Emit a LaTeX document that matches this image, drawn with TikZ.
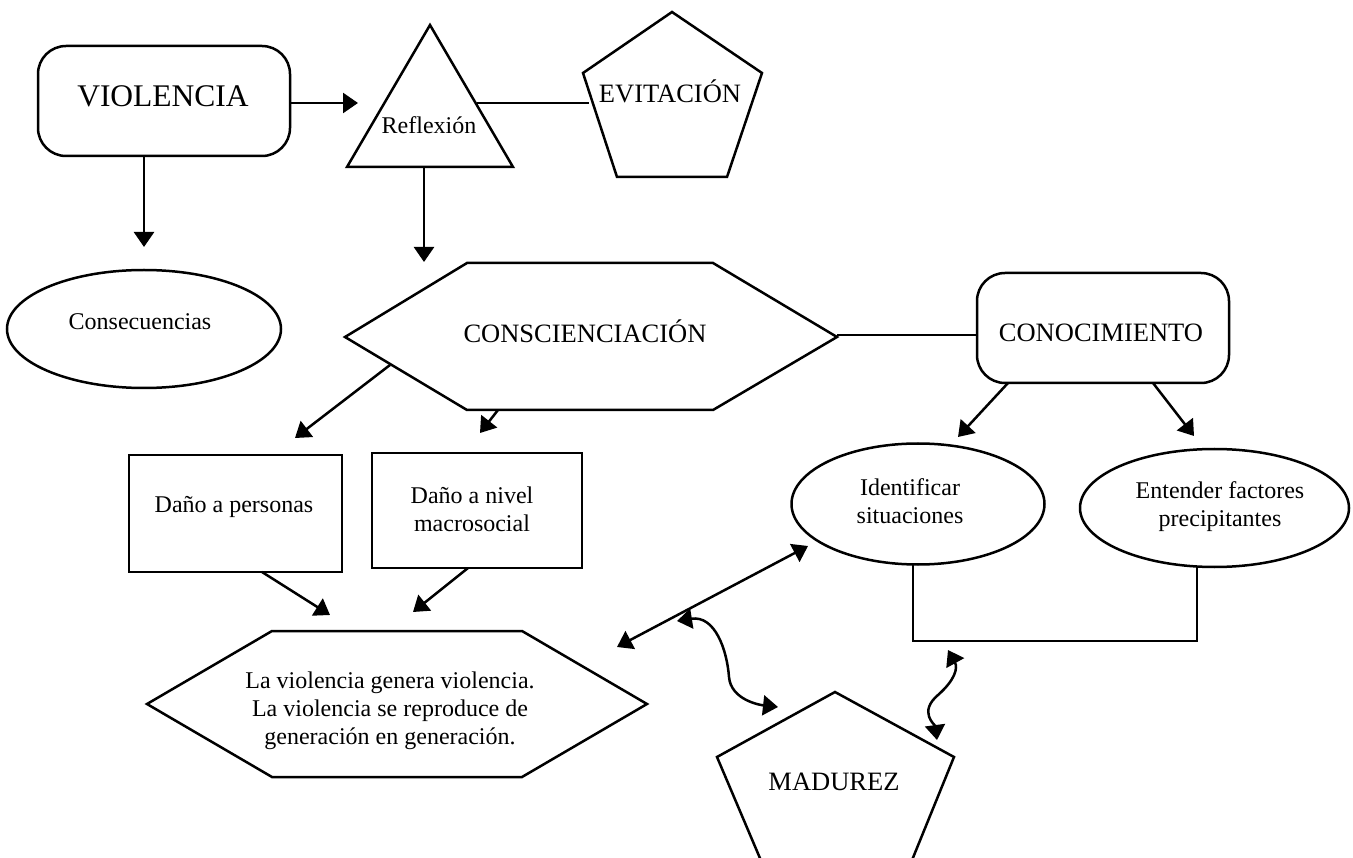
\documentclass[tikz,border=0pt]{standalone}
\usepackage{fontspec}
\setmainfont{Liberation Serif}
\usetikzlibrary{shapes.geometric,arrows.meta}
\newcommand\bigtxt{\fontsize{26.5}{31}\selectfont}
\newcommand\hugetxt{\fontsize{31.5}{36}\selectfont}
\newcommand\smalltxt{\fontsize{24}{28}\selectfont}
\begin{document}
\begin{tikzpicture}[x=1pt,y=-1pt,
  shp/.style={draw, line width=2.5pt, inner sep=0pt},
  rbox/.style={shp, rounded corners=28pt},
  ebox/.style={shp, ellipse},
  arr/.style={line width=2.5pt, -{Triangle[length=15pt,width=20pt]}},
  darr/.style={line width=2.5pt, {Triangle[length=15pt,width=20pt]}-{Triangle[length=15pt,width=20pt]}},
  conn/.style={line width=2.5pt},
  lbl/.style={font=\smalltxt, inner sep=0pt, align=center},
  captxt/.style={font=\bigtxt, inner sep=0pt}]
\fill[white] (0,0) rectangle (1353,858);
\useasboundingbox (0,0) rectangle (1353,858);

% ---- shapes ----
\node[rbox, minimum width=252pt, minimum height=110pt] (viol) at (164,101) {};
\node[ebox, minimum width=274pt, minimum height=118pt] (cons) at (144,329) {};
\draw[shp, line join=miter] (347,167) coordinate (triBL) -- (430,25) coordinate (triT) -- (513,167) coordinate (triBR) -- cycle;
\draw[shp, line join=miter] (672,12) coordinate (evT) -- (762,73) coordinate (evR) -- (727,177) coordinate (evBR) -- (617,177) coordinate (evBL) -- (583,73) coordinate (evL) -- cycle;
\draw[shp, line join=miter] (345,337) coordinate (hxL) -- (467,263) coordinate (hxTL) -- (713,263) coordinate (hxTR) -- (837,337) coordinate (hxR) -- (713,410) coordinate (hxBR) -- (467,410) coordinate (hxBL) -- cycle;
\node[rbox, minimum width=252pt, minimum height=110pt] (cono) at (1103,328) {};
\node[shp, minimum width=213pt, minimum height=117pt] (dp) at (235.5,513.5) {};
\node[shp, minimum width=210pt, minimum height=115pt] (dm) at (477,510.5) {};
\draw[shp, line join=miter] (147,704) coordinate (vgL) -- (272,631) coordinate (vgTL) -- (522,631) coordinate (vgTR) -- (647,704) coordinate (vgR) -- (522,777) coordinate (vgBR) -- (272,777) coordinate (vgBL) -- cycle;
\node[ebox, minimum width=253pt, minimum height=121pt] (ident) at (918,504) {};
\node[ebox, minimum width=269pt, minimum height=118pt] (ent) at (1214.5,508) {};
\begin{scope}
\clip (0,0) rectangle (1353,858);
\draw[shp, line join=miter] (835,692) coordinate (mdT) -- (954,757) coordinate (mdR) -- (908,870) -- (765,870) -- (717,757) coordinate (mdL) -- cycle;
\end{scope}

% ---- texts ----
\node[font=\hugetxt, inner sep=0pt, anchor=base] (tviol) at (163,107) {VIOLENCIA};
\node[lbl, anchor=base] (tcons) at (140,330) {Consecuencias};
\node[lbl, anchor=base] (trefl) at (429,134) {Reflexión};
\node[captxt, anchor=base] (tevit) at (670,103) {EVITACIÓN};
\node[captxt, anchor=base] (tconsc) at (585,343) {CONSCIENCIACIÓN};
\node[captxt, anchor=base] (tcono) at (1101,342) {CONOCIMIENTO};
\node[lbl, anchor=base] (tdp) at (234,513) {Daño a personas};
\node[lbl] (tdm) at (472,509) {Daño a nivel\\macrosocial};
\node[lbl] (tvg) at (390,710.5) {La violencia genera violencia.\\La violencia se reproduce de\\generación en generación.};
\node[lbl] (tident) at (910,501) {Identificar\\situaciones};
\node[lbl] (tent) at (1220,506.5) {Entender factores\\precipitantes};
\node[captxt, anchor=base] (tmad) at (834,790) {MADUREZ};

% ---- connector end points ----
\coordinate (c1) at (290,103);
\coordinate (c1e) at (358,103);
\coordinate (c2) at (477,103);
\coordinate (c2e) at (589,103);
\coordinate (c3) at (424,167);
\coordinate (c3e) at (424,262);
\coordinate (c4e) at (144,247);
\coordinate (c5) at (390,365);
\coordinate (c5e) at (295,438);
\coordinate (c6) at (498,410);
\coordinate (c6e) at (480,433);
\coordinate (c7) at (837,335);
\coordinate (c7e) at (977,335);
\coordinate (c8) at (1008,383);
\coordinate (c8e) at (958,437);
\coordinate (c9) at (1153,383);
\coordinate (c9e) at (1194,436);
\coordinate (c10) at (262,572);
\coordinate (c10e) at (330,615);
\coordinate (c11) at (468,568);
\coordinate (c11e) at (413,612);
\coordinate (b1) at (913,565);
\coordinate (b2) at (913,641);
\coordinate (b3) at (1197,641);
\coordinate (b4) at (1197,567);
\coordinate (d1) at (617,647);
\coordinate (d2) at (808,546);
\coordinate (w1) at (677,621);
\coordinate (w1e) at (778,707);
\coordinate (w2) at (948,650);
\coordinate (w2e) at (937,740);

% ---- connectors ----
\draw[arr] (c1) -- (c1e);
\draw[conn] (c2) -- (c2e);
\draw[arr] (viol.south -| cons.north) -- (c4e);
\draw[arr] (c3) -- (c3e);
\draw[arr] (c5) -- (c5e);
\draw[arr] (c6) -- (c6e);
\draw[conn] (c7) -- (c7e);
\draw[arr] (c8) -- (c8e);
\draw[arr] (c9) -- (c9e);
\draw[arr] (c10) -- (c10e);
\draw[arr] (c11) -- (c11e);
\draw[conn, line join=miter] (b1) -- (b2) -- (b3) -- (b4);
\draw[darr] (d1) -- (d2);
\draw[darr] (w1) .. controls (715,615) and (727,650) .. (729,677) .. controls (731,700) and (760,705) .. (w1e);
\draw[darr] (w2) .. controls (958,668) and (955,680) .. (938,695) .. controls (918,712) and (935,725) .. (w2e);
\end{tikzpicture}
\end{document}
